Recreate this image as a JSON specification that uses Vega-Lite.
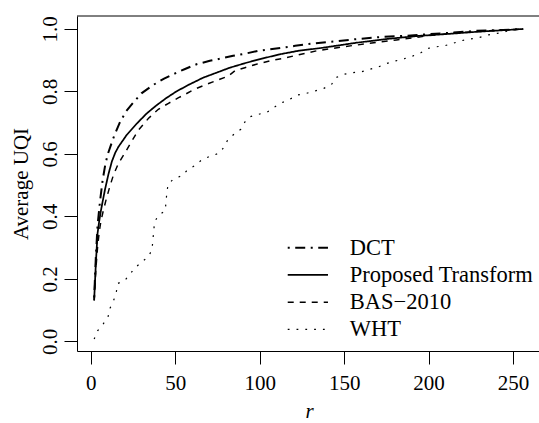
{
  "$schema": "https://vega.github.io/schema/vega-lite/v6.json",
  "width": 462,
  "height": 335,
  "padding": {"left": 77, "top": 16, "right": 0, "bottom": 72},
  "autosize": {"type": "none"},
  "background": "white",
  "config": {
    "view": {"stroke": null},
    "font": "Liberation Serif",
    "axis": {
      "domainColor": "black", "domainWidth": 1, "tickColor": "black", "tickWidth": 1, "tickSize": 13,
      "labelColor": "black", "titleColor": "black", "labelFont": "Liberation Serif", "titleFont": "Liberation Serif",
      "labelFontSize": 21, "titleFontSize": 21, "titleFontWeight": "normal", "grid": false,
      "labelFlush": false, "labelOverlap": false
    }
  },
  "layer": [
    {
      "data": {"values": [{"top": 1.0416}]},
      "mark": {"type": "rule", "color": "black", "strokeWidth": 1},
      "encoding": {"y": {"field": "top", "type": "quantitative"}}
    },
    {
      "data": {"values": [
        {"method": "DCT", "r": 2, "uqi": 0.14}, {"method": "DCT", "r": 3, "uqi": 0.27}, {"method": "DCT", "r": 4, "uqi": 0.37},
        {"method": "DCT", "r": 5.5, "uqi": 0.45}, {"method": "DCT", "r": 7, "uqi": 0.515}, {"method": "DCT", "r": 8.5, "uqi": 0.563},
        {"method": "DCT", "r": 10, "uqi": 0.598}, {"method": "DCT", "r": 12.4, "uqi": 0.636}, {"method": "DCT", "r": 14, "uqi": 0.66},
        {"method": "DCT", "r": 17.4, "uqi": 0.703}, {"method": "DCT", "r": 21, "uqi": 0.737}, {"method": "DCT", "r": 25.6, "uqi": 0.767},
        {"method": "DCT", "r": 30, "uqi": 0.794}, {"method": "DCT", "r": 36.7, "uqi": 0.82}, {"method": "DCT", "r": 43.4, "uqi": 0.841},
        {"method": "DCT", "r": 50, "uqi": 0.858}, {"method": "DCT", "r": 55.8, "uqi": 0.872}, {"method": "DCT", "r": 62.6, "uqi": 0.887},
        {"method": "DCT", "r": 70.5, "uqi": 0.898}, {"method": "DCT", "r": 77.4, "uqi": 0.906}, {"method": "DCT", "r": 84.3, "uqi": 0.914},
        {"method": "DCT", "r": 92.2, "uqi": 0.922}, {"method": "DCT", "r": 99, "uqi": 0.93}, {"method": "DCT", "r": 106, "uqi": 0.935},
        {"method": "DCT", "r": 113, "uqi": 0.94}, {"method": "DCT", "r": 121, "uqi": 0.946}, {"method": "DCT", "r": 127.7, "uqi": 0.951},
        {"method": "DCT", "r": 141.5, "uqi": 0.959}, {"method": "DCT", "r": 156.3, "uqi": 0.967}, {"method": "DCT", "r": 171, "uqi": 0.974},
        {"method": "DCT", "r": 186, "uqi": 0.978}, {"method": "DCT", "r": 198.7, "uqi": 0.983}, {"method": "DCT", "r": 213.6, "uqi": 0.988},
        {"method": "DCT", "r": 228.4, "uqi": 0.994}, {"method": "DCT", "r": 244, "uqi": 0.997}, {"method": "DCT", "r": 256, "uqi": 1.0},

        {"method": "Proposed Transform", "r": 2, "uqi": 0.132}, {"method": "Proposed Transform", "r": 3, "uqi": 0.25}, {"method": "Proposed Transform", "r": 4, "uqi": 0.345},
        {"method": "Proposed Transform", "r": 5, "uqi": 0.385}, {"method": "Proposed Transform", "r": 6, "uqi": 0.418}, {"method": "Proposed Transform", "r": 7, "uqi": 0.447},
        {"method": "Proposed Transform", "r": 8.5, "uqi": 0.488}, {"method": "Proposed Transform", "r": 10.5, "uqi": 0.536}, {"method": "Proposed Transform", "r": 12.5, "uqi": 0.576},
        {"method": "Proposed Transform", "r": 14.5, "uqi": 0.604}, {"method": "Proposed Transform", "r": 16.4, "uqi": 0.623}, {"method": "Proposed Transform", "r": 21.3, "uqi": 0.661}, {"method": "Proposed Transform", "r": 27.2, "uqi": 0.697},
        {"method": "Proposed Transform", "r": 33.2, "uqi": 0.73}, {"method": "Proposed Transform", "r": 39, "uqi": 0.756}, {"method": "Proposed Transform", "r": 45, "uqi": 0.78},
        {"method": "Proposed Transform", "r": 51, "uqi": 0.801}, {"method": "Proposed Transform", "r": 58.6, "uqi": 0.823}, {"method": "Proposed Transform", "r": 66.5, "uqi": 0.844},
        {"method": "Proposed Transform", "r": 74.4, "uqi": 0.86}, {"method": "Proposed Transform", "r": 82.3, "uqi": 0.876}, {"method": "Proposed Transform", "r": 92.2, "uqi": 0.892},
        {"method": "Proposed Transform", "r": 102, "uqi": 0.906}, {"method": "Proposed Transform", "r": 112, "uqi": 0.919}, {"method": "Proposed Transform", "r": 122.7, "uqi": 0.93},
        {"method": "Proposed Transform", "r": 137.5, "uqi": 0.94}, {"method": "Proposed Transform", "r": 157.3, "uqi": 0.956}, {"method": "Proposed Transform", "r": 177, "uqi": 0.969},
        {"method": "Proposed Transform", "r": 194.4, "uqi": 0.978}, {"method": "Proposed Transform", "r": 208.6, "uqi": 0.983}, {"method": "Proposed Transform", "r": 228.4, "uqi": 0.991},
        {"method": "Proposed Transform", "r": 244, "uqi": 0.996}, {"method": "Proposed Transform", "r": 256, "uqi": 1.0},

        {"method": "BAS−2010", "r": 2, "uqi": 0.13}, {"method": "BAS−2010", "r": 3, "uqi": 0.23}, {"method": "BAS−2010", "r": 4, "uqi": 0.3},
        {"method": "BAS−2010", "r": 5, "uqi": 0.35}, {"method": "BAS−2010", "r": 6, "uqi": 0.385}, {"method": "BAS−2010", "r": 7.5, "uqi": 0.42},
        {"method": "BAS−2010", "r": 9, "uqi": 0.452}, {"method": "BAS−2010", "r": 11.4, "uqi": 0.498}, {"method": "BAS−2010", "r": 13.4, "uqi": 0.532},
        {"method": "BAS−2010", "r": 16.4, "uqi": 0.57}, {"method": "BAS−2010", "r": 20.3, "uqi": 0.604}, {"method": "BAS−2010", "r": 23.3, "uqi": 0.632},
        {"method": "BAS−2010", "r": 28, "uqi": 0.675}, {"method": "BAS−2010", "r": 32.1, "uqi": 0.701}, {"method": "BAS−2010", "r": 34.2, "uqi": 0.714},
        {"method": "BAS−2010", "r": 40, "uqi": 0.743}, {"method": "BAS−2010", "r": 46, "uqi": 0.762}, {"method": "BAS−2010", "r": 52, "uqi": 0.78},
        {"method": "BAS−2010", "r": 56, "uqi": 0.791}, {"method": "BAS−2010", "r": 60.6, "uqi": 0.805}, {"method": "BAS−2010", "r": 68.5, "uqi": 0.823},
        {"method": "BAS−2010", "r": 76.4, "uqi": 0.839}, {"method": "BAS−2010", "r": 81.3, "uqi": 0.849}, {"method": "BAS−2010", "r": 85.3, "uqi": 0.866},
        {"method": "BAS−2010", "r": 91.2, "uqi": 0.876}, {"method": "BAS−2010", "r": 98, "uqi": 0.887}, {"method": "BAS−2010", "r": 106, "uqi": 0.898},
        {"method": "BAS−2010", "r": 114, "uqi": 0.906}, {"method": "BAS−2010", "r": 122.7, "uqi": 0.917}, {"method": "BAS−2010", "r": 133.6, "uqi": 0.93},
        {"method": "BAS−2010", "r": 149.4, "uqi": 0.943}, {"method": "BAS−2010", "r": 165, "uqi": 0.954}, {"method": "BAS−2010", "r": 181, "uqi": 0.965},
        {"method": "BAS−2010", "r": 194.4, "uqi": 0.974}, {"method": "BAS−2010", "r": 198.7, "uqi": 0.978}, {"method": "BAS−2010", "r": 217, "uqi": 0.988},
        {"method": "BAS−2010", "r": 235, "uqi": 0.994}, {"method": "BAS−2010", "r": 256, "uqi": 1.0},

        {"method": "WHT", "r": 2, "uqi": 0.007}, {"method": "WHT", "r": 4.1, "uqi": 0.034}, {"method": "WHT", "r": 7.3, "uqi": 0.055},
        {"method": "WHT", "r": 10.2, "uqi": 0.078}, {"method": "WHT", "r": 11.4, "uqi": 0.106}, {"method": "WHT", "r": 13.4, "uqi": 0.129},
        {"method": "WHT", "r": 15, "uqi": 0.154}, {"method": "WHT", "r": 16, "uqi": 0.185}, {"method": "WHT", "r": 20.3, "uqi": 0.196},
        {"method": "WHT", "r": 26.5, "uqi": 0.237}, {"method": "WHT", "r": 30.5, "uqi": 0.255}, {"method": "WHT", "r": 34.2, "uqi": 0.272},
        {"method": "WHT", "r": 36.3, "uqi": 0.294}, {"method": "WHT", "r": 36.7, "uqi": 0.322}, {"method": "WHT", "r": 37.3, "uqi": 0.352},
        {"method": "WHT", "r": 37.7, "uqi": 0.382}, {"method": "WHT", "r": 40, "uqi": 0.402}, {"method": "WHT", "r": 44, "uqi": 0.418},
        {"method": "WHT", "r": 44.6, "uqi": 0.447}, {"method": "WHT", "r": 45, "uqi": 0.476}, {"method": "WHT", "r": 45.8, "uqi": 0.503},
        {"method": "WHT", "r": 49, "uqi": 0.52}, {"method": "WHT", "r": 54, "uqi": 0.53}, {"method": "WHT", "r": 57.3, "uqi": 0.549},
        {"method": "WHT", "r": 62, "uqi": 0.564}, {"method": "WHT", "r": 65.9, "uqi": 0.582}, {"method": "WHT", "r": 70.9, "uqi": 0.593},
        {"method": "WHT", "r": 76, "uqi": 0.602}, {"method": "WHT", "r": 78.9, "uqi": 0.622}, {"method": "WHT", "r": 81.1, "uqi": 0.645},
        {"method": "WHT", "r": 84.8, "uqi": 0.663}, {"method": "WHT", "r": 88.8, "uqi": 0.679}, {"method": "WHT", "r": 91.2, "uqi": 0.702},
        {"method": "WHT", "r": 94.3, "uqi": 0.719}, {"method": "WHT", "r": 99.5, "uqi": 0.727}, {"method": "WHT", "r": 104.4, "uqi": 0.734},
        {"method": "WHT", "r": 108.7, "uqi": 0.75}, {"method": "WHT", "r": 113.2, "uqi": 0.764}, {"method": "WHT", "r": 117.8, "uqi": 0.775},
        {"method": "WHT", "r": 122.7, "uqi": 0.789}, {"method": "WHT", "r": 127.7, "uqi": 0.794}, {"method": "WHT", "r": 133, "uqi": 0.802},
        {"method": "WHT", "r": 138, "uqi": 0.81}, {"method": "WHT", "r": 142.5, "uqi": 0.822}, {"method": "WHT", "r": 145, "uqi": 0.844},
        {"method": "WHT", "r": 149.8, "uqi": 0.855}, {"method": "WHT", "r": 154.9, "uqi": 0.86}, {"method": "WHT", "r": 160.3, "uqi": 0.863},
        {"method": "WHT", "r": 165.4, "uqi": 0.871}, {"method": "WHT", "r": 170.5, "uqi": 0.879}, {"method": "WHT", "r": 175.4, "uqi": 0.89},
        {"method": "WHT", "r": 180.6, "uqi": 0.898}, {"method": "WHT", "r": 185.7, "uqi": 0.905}, {"method": "WHT", "r": 190.8, "uqi": 0.914},
        {"method": "WHT", "r": 195.4, "uqi": 0.924}, {"method": "WHT", "r": 199.7, "uqi": 0.938}, {"method": "WHT", "r": 204.7, "uqi": 0.943},
        {"method": "WHT", "r": 210, "uqi": 0.947}, {"method": "WHT", "r": 214.9, "uqi": 0.955}, {"method": "WHT", "r": 219.8, "uqi": 0.963},
        {"method": "WHT", "r": 225, "uqi": 0.968}, {"method": "WHT", "r": 230.3, "uqi": 0.973}, {"method": "WHT", "r": 235.5, "uqi": 0.981},
        {"method": "WHT", "r": 240.6, "uqi": 0.986}, {"method": "WHT", "r": 245.7, "uqi": 0.992}, {"method": "WHT", "r": 250.6, "uqi": 0.997},
        {"method": "WHT", "r": 256, "uqi": 1.0}
      ]},
      "mark": {"type": "line", "color": "black", "strokeCap": "butt"},
      "encoding": {
        "x": {
          "field": "r", "type": "quantitative",
          "scale": {"domain": [-8.16, 265.37], "nice": false, "zero": false},
          "axis": {
            "values": [0, 50, 100, 150, 200, 250], "labelPadding": 8, "title": "r",
            "titleFontStyle": "italic", "titleX": 232, "titleY": 66, "titleAlign": "center", "titleBaseline": "alphabetic"
          }
        },
        "y": {
          "field": "uqi", "type": "quantitative",
          "scale": {"domain": [-0.0311, 1.0416], "nice": false, "zero": false},
          "axis": {
            "values": [0, 0.2, 0.4, 0.6, 0.8, 1.0], "format": ".1f", "labelAngle": -90, "labelAlign": "center",
            "labelBaseline": "alphabetic", "labelPadding": 7.5, "title": "Average UQI", "titleAngle": -90,
            "titleX": -49.8, "titleY": 167.5, "titleAlign": "center", "titleBaseline": "alphabetic"
          }
        },
        "strokeDash": {
          "field": "method", "type": "nominal",
          "scale": {"domain": ["DCT", "Proposed Transform", "BAS−2010", "WHT"], "range": [[2, 5.5, 10, 5.5], [1, 0], [6, 6], [1.8, 7]]},
          "legend": {
            "orient": "none", "legendX": 219.6, "legendY": 220.5, "title": null, "symbolType": "M-3,0H3", "symbolSize": 180,
            "symbolStrokeColor": "black", "labelFont": "Liberation Serif", "labelFontSize": 22.5, "labelColor": "black",
            "labelOffset": 30.6, "rowPadding": 4.2, "padding": 0, "labelLimit": 400
          }
        },
        "strokeWidth": {
          "field": "method", "type": "nominal",
          "scale": {"domain": ["DCT", "Proposed Transform", "BAS−2010", "WHT"], "range": [2, 1.2, 1.2, 1.7]},
          "legend": {
            "orient": "none", "legendX": 219.6, "legendY": 220.5, "title": null, "symbolType": "M-3,0H3", "symbolSize": 180,
            "symbolStrokeColor": "black", "labelFont": "Liberation Serif", "labelFontSize": 22.5, "labelColor": "black",
            "labelOffset": 30.6, "rowPadding": 4.2, "padding": 0, "labelLimit": 400
          }
        }
      }
    }
  ]
}
